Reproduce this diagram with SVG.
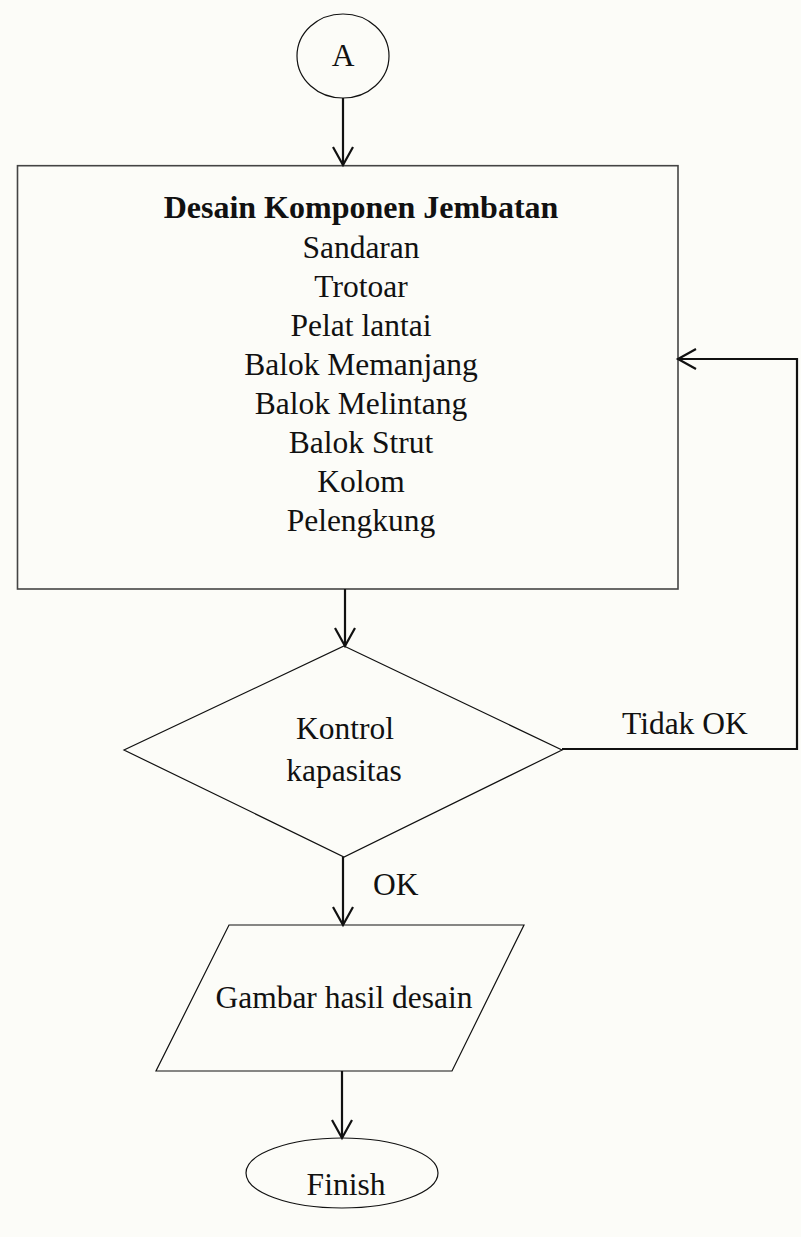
<svg xmlns="http://www.w3.org/2000/svg" width="801" height="1237" viewBox="0 0 801 1237">
<defs>
<style>
.t{font-family:"Liberation Serif","Times New Roman",serif;font-size:31.5px;fill:#111;text-anchor:middle}
.b{font-weight:bold;font-size:32px}
.s{fill:none;stroke:#111;stroke-width:1.2}
.c{fill:none;stroke:#111;stroke-width:2.2}
</style>
<marker id="ah" markerUnits="userSpaceOnUse" markerWidth="24" markerHeight="26" refX="20" refY="12" orient="auto">
<path d="M2,2 L20,12 L2,22" fill="none" stroke="#111" stroke-width="2.2"/>
</marker>
</defs>
<rect width="801" height="1237" fill="#fcfcf8"/>
<g id="nodeA">
<ellipse class="s" cx="343" cy="56" rx="46" ry="42"/>
<text class="t" x="343" y="66">A</text>
</g>
<g id="design">
<rect x="17.5" y="165.7" width="660.5" height="423.3" fill="none" stroke="#444" stroke-width="1.6"/>
<text class="t b" x="361" y="218">Desain Komponen Jembatan</text>
<text class="t" x="361" y="258">Sandaran</text>
<text class="t" x="361" y="297">Trotoar</text>
<text class="t" x="361" y="336">Pelat lantai</text>
<text class="t" x="361" y="375">Balok Memanjang</text>
<text class="t" x="361" y="414">Balok Melintang</text>
<text class="t" x="361" y="453">Balok Strut</text>
<text class="t" x="361" y="492">Kolom</text>
<text class="t" x="361" y="531">Pelengkung</text>
</g>
<g id="check">
<polygon class="s" points="344,646 562,750 344,857 124,750"/>
<text class="t" x="345" y="739">Kontrol</text>
<text class="t" x="344" y="781">kapasitas</text>
</g>
<g id="output">
<polygon class="s" points="229,925 524,925 452,1071 156,1071"/>
<text class="t" x="344" y="1008">Gambar hasil desain</text>
</g>
<g id="finish">
<ellipse class="s" cx="342" cy="1173" rx="96" ry="35"/>
<text class="t" x="346" y="1195">Finish</text>
</g>
<g id="connectors">
<line class="c" x1="343" y1="98" x2="343" y2="165" marker-end="url(#ah)"/>
<line class="c" x1="345" y1="589" x2="345" y2="646" marker-end="url(#ah)"/>
<polyline class="c" points="562,749 797,749 797,359 678,359" marker-end="url(#ah)"/>
<line class="c" x1="343" y1="857" x2="343" y2="925" marker-end="url(#ah)"/>
<line class="c" x1="342" y1="1071" x2="342" y2="1138" marker-end="url(#ah)"/>
<text class="t" x="622" y="734" style="text-anchor:start">Tidak OK</text>
<text class="t" x="373" y="895" style="text-anchor:start">OK</text>
</g>
</svg>
